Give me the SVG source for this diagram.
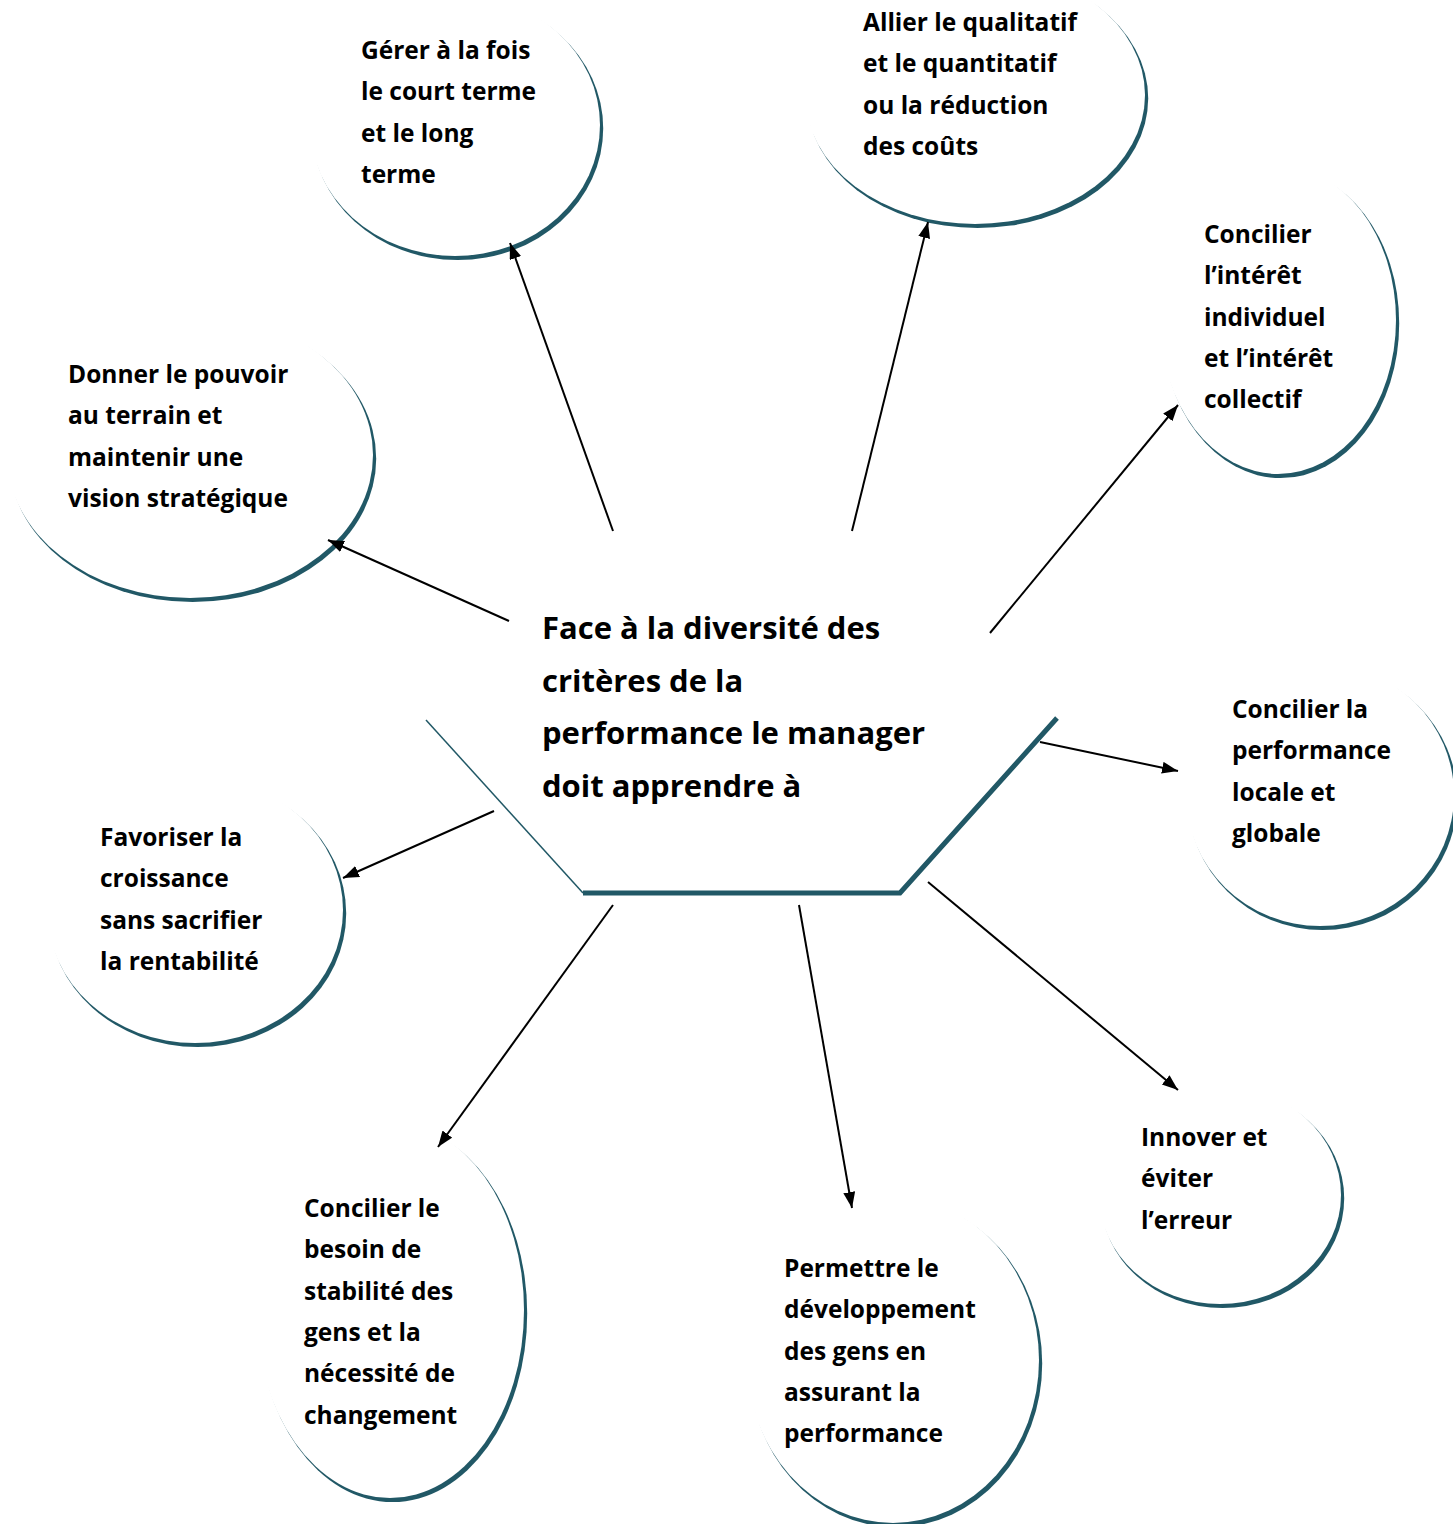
<svg xmlns="http://www.w3.org/2000/svg" width="1453" height="1524" viewBox="0 0 1453 1524">
<style>
.sh{fill:#215866;}
.bg{fill:#ffffff;}
.t{font-family:"Open Sans","Liberation Sans",sans-serif;font-weight:bold;font-size:24.5px;fill:#000;}
.tc{font-family:"Open Sans","Liberation Sans",sans-serif;font-weight:bold;font-size:31px;fill:#000;}
.c{stroke:#000;stroke-width:2;fill:none;marker-end:url(#ah);}
</style>
<defs>
<marker id="ah" markerUnits="userSpaceOnUse" markerWidth="18" markerHeight="14" refX="16" refY="6" orient="auto">
<path d="M0,0 L16,6 L0,12 z" fill="#000"/>
</marker>
</defs>
<rect width="1453" height="1524" fill="#fff"/>

<g id="n1">
<ellipse class="sh" cx="457.6" cy="128.5" rx="145.6" ry="131.6"/>
<ellipse class="bg" cx="455" cy="125" rx="145" ry="131"/>
<text class="t" x="361" y="59">Gérer à la fois<tspan x="361" dy="41.3">le court terme</tspan><tspan x="361" dy="41.3">et le long</tspan><tspan x="361" dy="41.3">terme</tspan></text>
</g>
<g id="n2">
<ellipse class="sh" cx="977.6" cy="98.5" rx="170.6" ry="129.6"/>
<ellipse class="bg" cx="975" cy="95" rx="170" ry="129"/>
<text class="t" x="863" y="31">Allier le qualitatif<tspan x="863" dy="41.3">et le quantitatif</tspan><tspan x="863" dy="41.3">ou la réduction</tspan><tspan x="863" dy="41.3">des coûts</tspan></text>
</g>
<g id="n3">
<ellipse class="sh" cx="1280.6" cy="323.5" rx="118.6" ry="154.6"/>
<ellipse class="bg" cx="1278" cy="320" rx="118" ry="154"/>
<text class="t" x="1204" y="243">Concilier<tspan x="1204" dy="41.3">l’intérêt</tspan><tspan x="1204" dy="41.3">individuel</tspan><tspan x="1204" dy="41.3">et l’intérêt</tspan><tspan x="1204" dy="41.3">collectif</tspan></text>
</g>
<g id="n4">
<ellipse class="sh" cx="192.6" cy="458.5" rx="183.6" ry="143.6"/>
<ellipse class="bg" cx="190" cy="455" rx="183" ry="143"/>
<text class="t" x="68" y="383">Donner le pouvoir<tspan x="68" dy="41.3">au terrain et</tspan><tspan x="68" dy="41.3">maintenir une</tspan><tspan x="68" dy="41.3">vision stratégique</tspan></text>
</g>
<g id="n5">
<ellipse class="sh" cx="1322.6" cy="798.5" rx="134.6" ry="131.6"/>
<ellipse class="bg" cx="1320" cy="795" rx="134" ry="131"/>
<text class="t" x="1232" y="718">Concilier la<tspan x="1232" dy="41.3">performance</tspan><tspan x="1232" dy="41.3">locale et</tspan><tspan x="1232" dy="41.3">globale</tspan></text>
</g>
<g id="n6">
<ellipse class="sh" cx="197.6" cy="913.5" rx="148.6" ry="133.6"/>
<ellipse class="bg" cx="195" cy="910" rx="148" ry="133"/>
<text class="t" x="100" y="846">Favoriser la<tspan x="100" dy="41.3">croissance</tspan><tspan x="100" dy="41.3">sans sacrifier</tspan><tspan x="100" dy="41.3">la rentabilité</tspan></text>
</g>
<g id="n7">
<ellipse class="sh" cx="392.6" cy="1313.5" rx="134.6" ry="188.6"/>
<ellipse class="bg" cx="390" cy="1310" rx="134" ry="188"/>
<text class="t" x="304" y="1217">Concilier le<tspan x="304" dy="41.3">besoin de</tspan><tspan x="304" dy="41.3">stabilité des</tspan><tspan x="304" dy="41.3">gens et la</tspan><tspan x="304" dy="41.3">nécessité de</tspan><tspan x="304" dy="41.3">changement</tspan></text>
</g>
<g id="n8">
<ellipse class="sh" cx="895.6" cy="1363.5" rx="146.6" ry="163.6"/>
<ellipse class="bg" cx="893" cy="1360" rx="146" ry="163"/>
<text class="t" x="784" y="1277">Permettre le<tspan x="784" dy="41.3">développement</tspan><tspan x="784" dy="41.3">des gens en</tspan><tspan x="784" dy="41.3">assurant la</tspan><tspan x="784" dy="41.3">performance</tspan></text>
</g>
<g id="n9">
<ellipse class="sh" cx="1222.6" cy="1198.5" rx="121.6" ry="109.6"/>
<ellipse class="bg" cx="1220" cy="1195" rx="121" ry="109"/>
<text class="t" x="1141" y="1146">Innover et<tspan x="1141" dy="41.3">éviter</tspan><tspan x="1141" dy="41.3">l’erreur</tspan></text>
</g>

<g id="center">
<path d="M426,720 L583,893" stroke="#215866" stroke-width="1.5" fill="none"/>
<path d="M583,893 L900,893 L1057,718" stroke="#215866" stroke-width="5" fill="none" stroke-linejoin="miter"/>
<text class="tc" x="542" y="639">Face à la diversité des<tspan x="542" dy="52.7">critères de la</tspan><tspan x="542" dy="52.7">performance le manager</tspan><tspan x="542" dy="52.7">doit apprendre à</tspan></text>
</g>

<g id="connectors">
<line class="c" x1="613" y1="531" x2="510" y2="243"/>
<line class="c" x1="852" y1="531" x2="928" y2="222"/>
<line class="c" x1="990" y1="633" x2="1178" y2="405"/>
<line class="c" x1="509" y1="621" x2="328" y2="540"/>
<line class="c" x1="1040" y1="742" x2="1178" y2="771"/>
<line class="c" x1="494" y1="811" x2="343" y2="878"/>
<line class="c" x1="613" y1="905" x2="438" y2="1147"/>
<line class="c" x1="799" y1="905" x2="852" y2="1208"/>
<line class="c" x1="928" y1="882" x2="1178" y2="1090"/>
</g>
</svg>
